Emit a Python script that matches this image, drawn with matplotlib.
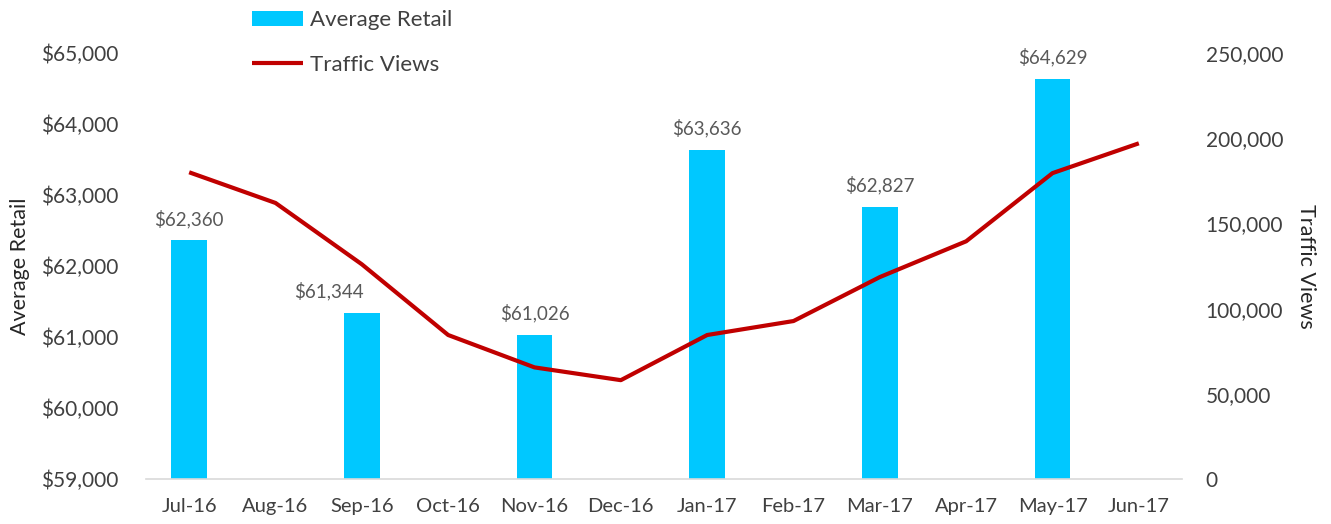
import matplotlib.pyplot as plt
from matplotlib.ticker import FuncFormatter, FixedLocator
import numpy as np

plt.rcParams['font.family'] = ['Lato', 'DejaVu Sans']

months = ['Jul-16', 'Aug-16', 'Sep-16', 'Oct-16', 'Nov-16', 'Dec-16',
          'Jan-17', 'Feb-17', 'Mar-17', 'Apr-17', 'May-17', 'Jun-17']
# average retail only reported every other month
avg_retail = [62360, None, 61344, None, 61026, None,
              63636, None, 62827, None, 64629, None]
traffic_views = [180000, 162000, 126000, 84500, 65500, 58000,
                 84500, 92700, 118500, 139500, 179500, 197000]

bar_color = '#00C8FF'
line_color = '#C00000'
text_color = '#404040'

# label nudged left so it clears the line (as in the original)
label_shift = {2: -24}

fig = plt.figure(figsize=(13.31, 5.24), dpi=100)
ax = fig.add_axes([146/1331, 1 - 479/524, (1182 - 146)/1331, (479 - 53)/524])
ax2 = ax.twinx()

x = np.arange(len(months))
bx = [i for i, v in enumerate(avg_retail) if v is not None]
bv = [v for v in avg_retail if v is not None]

bars = ax.bar(bx, bv, width=0.41, color=bar_color, label='Average Retail', zorder=2)
for xi, v in zip(bx, bv):
    ax.annotate(f'${v:,.0f}', (xi, v), xytext=(label_shift.get(xi, 0), 9),
                textcoords='offset points', ha='center', va='bottom',
                fontsize=13.5, color='#595959')

line, = ax2.plot(x, traffic_views, color=line_color, linewidth=3,
                 solid_capstyle='butt', label='Traffic Views', zorder=3)

ax.set_xlim(-0.5, len(months) - 0.5)
ax.set_ylim(59000, 65000)
ax.yaxis.set_major_locator(FixedLocator(np.arange(59000, 65001, 1000)))
ax.yaxis.set_major_formatter(FuncFormatter(lambda v, p: f'${v:,.0f}'))
ax2.set_ylim(0, 250000)
ax2.yaxis.set_major_locator(FixedLocator(np.arange(0, 250001, 50000)))
ax2.yaxis.set_major_formatter(FuncFormatter(lambda v, p: f'{v:,.0f}'))

ax.set_xticks(x)
ax.set_xticklabels(months)

for a in (ax, ax2):
    for s in a.spines.values():
        s.set_visible(False)
    a.tick_params(length=0, colors=text_color, labelsize=15)
ax.spines['bottom'].set_visible(True)
ax.spines['bottom'].set_color('#D9D9D9')
ax.spines['bottom'].set_linewidth(1.2)
ax.tick_params(axis='x', labelsize=14.5, pad=14)
ax.tick_params(axis='y', pad=20)
ax2.tick_params(axis='y', pad=17)

ax.set_ylabel('Average Retail', fontsize=15.5, color='#262626', labelpad=8)
ax2.set_ylabel('Traffic Views', fontsize=15.5, color='#262626', rotation=270,
               labelpad=24)

ax.set_zorder(ax2.get_zorder() - 1)
ax2.patch.set_visible(False)

fig.legend([bars, line], ['Average Retail', 'Traffic Views'],
           loc='upper left', bbox_to_anchor=(252/1331, 1 - 10/524),
           frameon=False, fontsize=16, handlelength=2.3, handleheight=0.65,
           handletextpad=0.3, labelspacing=1.13, borderpad=0, borderaxespad=0,
           labelcolor=text_color)

fig.savefig('out.png', dpi=100)
